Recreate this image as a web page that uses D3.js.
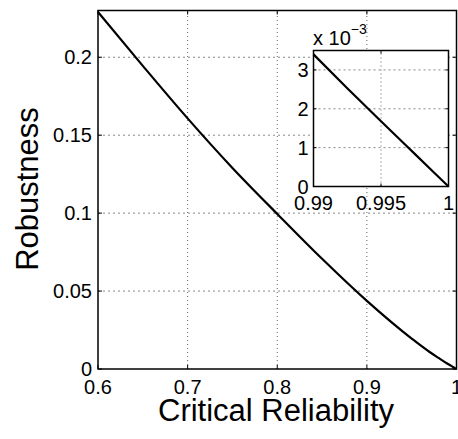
<!DOCTYPE html>
<html>
<head>
<meta charset="utf-8">
<script src="https://cdn.jsdelivr.net/npm/d3@7"></script>
<style>
html,body{margin:0;padding:0;background:#fff;}
svg{display:block;}
text{font-family:"Liberation Sans",Arial,Helvetica,sans-serif;fill:#000;}
</style>
</head>
<body>
<svg id="chart" width="458" height="439"></svg>
<script>
// Data
const reliability = [0.60, 0.65, 0.70, 0.75, 0.80, 0.85, 0.90, 0.95, 0.97, 0.98, 0.99, 0.9925, 0.995, 0.9975, 1.00];
const robustness  = [0.2290, 0.1945, 0.1608, 0.1290, 0.0995, 0.0707, 0.0437, 0.0195, 0.0109, 0.0071, 0.00340, 0.00253, 0.00168, 0.00084, 0];
const mainXTicks = [0.6, 0.7, 0.8, 0.9, 1];
const mainXTickLabels = ["0.6", "0.7", "0.8", "0.9", "1"];
const mainYTicks = [0, 0.05, 0.1, 0.15, 0.2];
const mainYTickLabels = ["0", "0.05", "0.1", "0.15", "0.2"];
const insetXTicks = [0.99, 0.995, 1];
const insetXTickLabels = ["0.99", "0.995", "1"];
const insetYTicks = [0, 1, 2, 3];          // in units of 1e-3
const insetYTickLabels = ["0", "1", "2", "3"];
const xLabel = "Critical Reliability";
const yLabel = "Robustness";

const data = reliability.map((r, i) => ({r, v: robustness[i]}));
const svg = d3.select("#chart");

function drawAxes(g, x, y, xt, xtl, yt, ytl, ymul, opts) {
  const [x0, x1] = x.range();
  const [y0, y1] = y.range();
  g.append("rect").attr("x", x0).attr("y", y1).attr("width", x1 - x0).attr("height", y0 - y1)
    .attr("fill", "#fff");
  g.selectAll(".gx").data(xt.filter((d, i) => i > 0 && i < xt.length - 1)).enter().append("line")
    .attr("x1", d => x(d)).attr("x2", d => x(d)).attr("y1", y0).attr("y2", y1)
    .attr("stroke", "#666").attr("stroke-width", 1).attr("stroke-dasharray", "1,3");
  g.selectAll(".gy").data(yt.filter(d => d * ymul > y.domain()[0] && d * ymul < y.domain()[1])).enter().append("line")
    .attr("x1", x0).attr("x2", x1).attr("y1", d => y(d * ymul)).attr("y2", d => y(d * ymul))
    .attr("stroke", "#888").attr("stroke-width", 1).attr("stroke-dasharray", "2,3");
  const tl = opts.tickLen;
  xt.forEach(d => {
    g.append("line").attr("x1", x(d)).attr("x2", x(d)).attr("y1", y0).attr("y2", y0 - tl).attr("stroke", "#000");
    g.append("line").attr("x1", x(d)).attr("x2", x(d)).attr("y1", y1).attr("y2", y1 + tl).attr("stroke", "#000");
  });
  yt.forEach(d => {
    g.append("line").attr("x1", x0).attr("x2", x0 + tl).attr("y1", y(d * ymul)).attr("y2", y(d * ymul)).attr("stroke", "#000");
    g.append("line").attr("x1", x1).attr("x2", x1 - tl).attr("y1", y(d * ymul)).attr("y2", y(d * ymul)).attr("stroke", "#000");
  });
  const sub = data.filter(d => d.r >= x.domain()[0] - 1e-9);
  g.append("path").datum(sub)
    .attr("d", d3.line().x(d => x(d.r)).y(d => y(d.v)).curve(d3.curveMonotoneX))
    .attr("fill", "none").attr("stroke", "#000").attr("stroke-width", 2.2);
  g.append("rect").attr("x", x0).attr("y", y1).attr("width", x1 - x0).attr("height", y0 - y1)
    .attr("fill", "none").attr("stroke", "#000").attr("stroke-width", 1.5);
  g.selectAll(".xl").data(xt).enter().append("text")
    .attr("x", d => x(d)).attr("y", y0 + opts.xLabelOff).attr("text-anchor", "middle")
    .attr("font-size", opts.fs).text((d, i) => xtl[i]);
  g.selectAll(".yl").data(yt).enter().append("text")
    .attr("x", x0 - opts.yLabelOff).attr("y", d => y(d * ymul)).attr("dy", "0.36em").attr("text-anchor", "end")
    .attr("font-size", opts.fs).text((d, i) => ytl[i]);
}

// Main axes
const xMain = d3.scaleLinear().domain([0.6, 1]).range([98, 456.5]);
const yMain = d3.scaleLinear().domain([0, 0.23]).range([369, 10.5]);
const gMain = svg.append("g");
drawAxes(gMain, xMain, yMain, mainXTicks, mainXTickLabels, mainYTicks, mainYTickLabels, 1,
  {tickLen: 4, fs: 20, xLabelOff: 25, yLabelOff: 6});

// Axis titles
svg.append("text").attr("x", 276).attr("y", 421).attr("text-anchor", "middle")
  .attr("font-size", 31).text(xLabel);
svg.append("text").attr("transform", "translate(38,189) rotate(-90)").attr("text-anchor", "middle")
  .attr("font-size", 31).text(yLabel);

// Inset axes
const xIn = d3.scaleLinear().domain([0.99, 1]).range([313.5, 448.5]);
const yIn = d3.scaleLinear().domain([0, 0.0035]).range([186.5, 50.5]);
const gIn = svg.append("g");
drawAxes(gIn, xIn, yIn, insetXTicks, insetXTickLabels, insetYTicks, insetYTickLabels, 1e-3,
  {tickLen: 3, fs: 20, xLabelOff: 23, yLabelOff: 5});

// exponent label
const ex = svg.append("text").attr("x", 313).attr("y", 45).attr("font-size", 20);
ex.append("tspan").text("x 10");
ex.append("tspan").attr("dy", -11).attr("font-size", 14).text("\u22123");
</script>
</body>
</html>
